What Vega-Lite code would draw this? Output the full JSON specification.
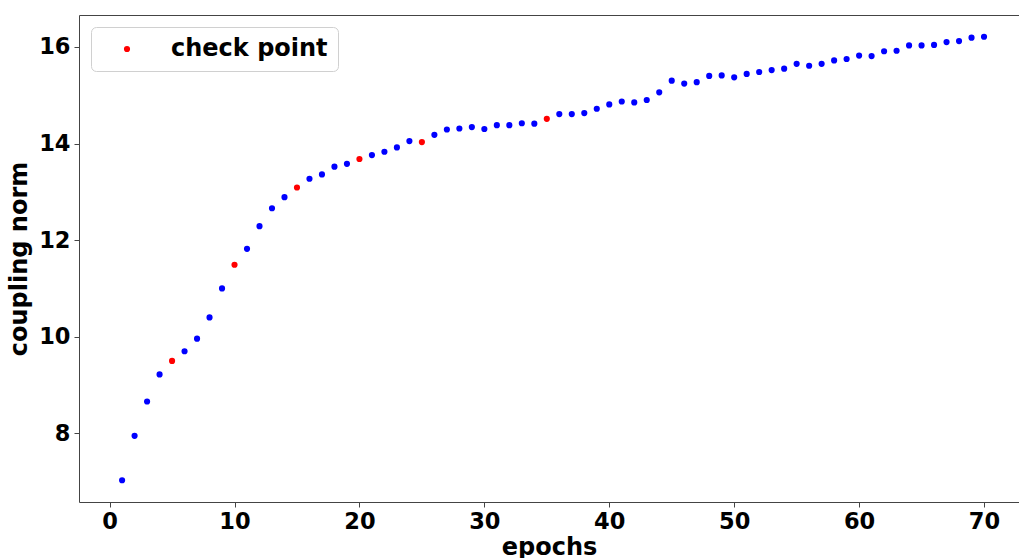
{
  "$schema": "https://vega.github.io/schema/vega-lite/v6.json",
  "width": 940,
  "height": 487,
  "autosize": {"type": "none"},
  "padding": {"left": 79, "top": 15, "right": 0, "bottom": 56},
  "background": "white",
  "config": {
    "font": "DejaVu Sans",
    "view": {"stroke": "#444444", "strokeWidth": 1},
    "axis": {
      "grid": false,
      "domain": false,
      "tickColor": "#444444",
      "tickSize": 5,
      "labelFont": "DejaVu Sans",
      "labelFontSize": 22.5,
      "labelFontWeight": "bold",
      "labelColor": "black",
      "titleFont": "DejaVu Sans",
      "titleFontSize": 24,
      "titleFontWeight": "bold",
      "titleColor": "black"
    }
  },
  "data": {
    "values": [
      {"epoch": 1, "norm": 7.03, "kind": "regular"},
      {"epoch": 2, "norm": 7.95, "kind": "regular"},
      {"epoch": 3, "norm": 8.66, "kind": "regular"},
      {"epoch": 4, "norm": 9.22, "kind": "regular"},
      {"epoch": 5, "norm": 9.50, "kind": "check point"},
      {"epoch": 6, "norm": 9.70, "kind": "regular"},
      {"epoch": 7, "norm": 9.96, "kind": "regular"},
      {"epoch": 8, "norm": 10.40, "kind": "regular"},
      {"epoch": 9, "norm": 11.00, "kind": "regular"},
      {"epoch": 10, "norm": 11.49, "kind": "check point"},
      {"epoch": 11, "norm": 11.82, "kind": "regular"},
      {"epoch": 12, "norm": 12.29, "kind": "regular"},
      {"epoch": 13, "norm": 12.66, "kind": "regular"},
      {"epoch": 14, "norm": 12.89, "kind": "regular"},
      {"epoch": 15, "norm": 13.09, "kind": "check point"},
      {"epoch": 16, "norm": 13.27, "kind": "regular"},
      {"epoch": 17, "norm": 13.36, "kind": "regular"},
      {"epoch": 18, "norm": 13.52, "kind": "regular"},
      {"epoch": 19, "norm": 13.58, "kind": "regular"},
      {"epoch": 20, "norm": 13.68, "kind": "check point"},
      {"epoch": 21, "norm": 13.76, "kind": "regular"},
      {"epoch": 22, "norm": 13.83, "kind": "regular"},
      {"epoch": 23, "norm": 13.92, "kind": "regular"},
      {"epoch": 24, "norm": 14.05, "kind": "regular"},
      {"epoch": 25, "norm": 14.03, "kind": "check point"},
      {"epoch": 26, "norm": 14.18, "kind": "regular"},
      {"epoch": 27, "norm": 14.29, "kind": "regular"},
      {"epoch": 28, "norm": 14.31, "kind": "regular"},
      {"epoch": 29, "norm": 14.34, "kind": "regular"},
      {"epoch": 30, "norm": 14.30, "kind": "regular"},
      {"epoch": 31, "norm": 14.38, "kind": "regular"},
      {"epoch": 32, "norm": 14.38, "kind": "regular"},
      {"epoch": 33, "norm": 14.42, "kind": "regular"},
      {"epoch": 34, "norm": 14.41, "kind": "regular"},
      {"epoch": 35, "norm": 14.51, "kind": "check point"},
      {"epoch": 36, "norm": 14.61, "kind": "regular"},
      {"epoch": 37, "norm": 14.61, "kind": "regular"},
      {"epoch": 38, "norm": 14.63, "kind": "regular"},
      {"epoch": 39, "norm": 14.72, "kind": "regular"},
      {"epoch": 40, "norm": 14.81, "kind": "regular"},
      {"epoch": 41, "norm": 14.87, "kind": "regular"},
      {"epoch": 42, "norm": 14.85, "kind": "regular"},
      {"epoch": 43, "norm": 14.90, "kind": "regular"},
      {"epoch": 44, "norm": 15.06, "kind": "regular"},
      {"epoch": 45, "norm": 15.30, "kind": "regular"},
      {"epoch": 46, "norm": 15.24, "kind": "regular"},
      {"epoch": 47, "norm": 15.27, "kind": "regular"},
      {"epoch": 48, "norm": 15.40, "kind": "regular"},
      {"epoch": 49, "norm": 15.41, "kind": "regular"},
      {"epoch": 50, "norm": 15.37, "kind": "regular"},
      {"epoch": 51, "norm": 15.44, "kind": "regular"},
      {"epoch": 52, "norm": 15.48, "kind": "regular"},
      {"epoch": 53, "norm": 15.52, "kind": "regular"},
      {"epoch": 54, "norm": 15.55, "kind": "regular"},
      {"epoch": 55, "norm": 15.65, "kind": "regular"},
      {"epoch": 56, "norm": 15.61, "kind": "regular"},
      {"epoch": 57, "norm": 15.65, "kind": "regular"},
      {"epoch": 58, "norm": 15.72, "kind": "regular"},
      {"epoch": 59, "norm": 15.75, "kind": "regular"},
      {"epoch": 60, "norm": 15.82, "kind": "regular"},
      {"epoch": 61, "norm": 15.81, "kind": "regular"},
      {"epoch": 62, "norm": 15.91, "kind": "regular"},
      {"epoch": 63, "norm": 15.92, "kind": "regular"},
      {"epoch": 64, "norm": 16.03, "kind": "regular"},
      {"epoch": 65, "norm": 16.03, "kind": "regular"},
      {"epoch": 66, "norm": 16.04, "kind": "regular"},
      {"epoch": 67, "norm": 16.10, "kind": "regular"},
      {"epoch": 68, "norm": 16.12, "kind": "regular"},
      {"epoch": 69, "norm": 16.19, "kind": "regular"},
      {"epoch": 70, "norm": 16.21, "kind": "regular"}
    ]
  },
  "mark": {"type": "point", "filled": true, "size": 38, "opacity": 1, "shape": "circle"},
  "encoding": {
    "x": {
      "field": "epoch",
      "type": "quantitative",
      "scale": {"domain": [-2.45, 72.8], "nice": false, "zero": false},
      "axis": {"values": [0, 10, 20, 30, 40, 50, 60, 70], "title": "epochs", "labelPadding": 3, "titlePadding": 3}
    },
    "y": {
      "field": "norm",
      "type": "quantitative",
      "scale": {"domain": [6.58, 16.66], "nice": false, "zero": false},
      "axis": {"values": [8, 10, 12, 14, 16], "title": "coupling norm", "labelPadding": 4, "titlePadding": 7}
    },
    "color": {
      "field": "kind",
      "type": "nominal",
      "scale": {"domain": ["check point", "regular"], "range": ["#ff0000", "#0000ff"]},
      "legend": {
        "values": ["check point"],
        "title": null,
        "orient": "none",
        "legendX": 12,
        "legendY": 12,
        "padding": 10,
        "fillColor": "white",
        "strokeColor": "#d0d0d0",
        "cornerRadius": 5,
        "symbolType": "circle",
        "symbolSize": 38,
        "symbolOffset": 14,
        "labelOffset": 32,
        "labelFont": "DejaVu Sans",
        "labelFontSize": 24,
        "labelFontWeight": "bold",
        "labelColor": "black",
        "labelLimit": 400
      }
    }
  }
}
